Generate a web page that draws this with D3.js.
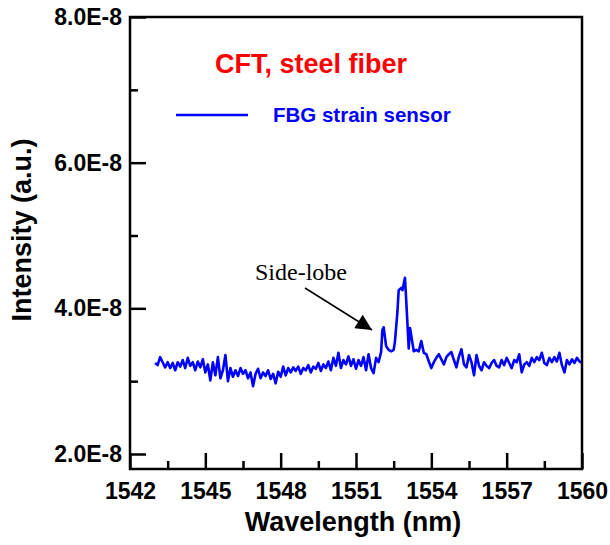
<!DOCTYPE html>
<meta charset="utf-8">
<style>
    html,
    body {
        margin: 0;
        background: #fff;
    }

    .frame {
        fill: none;
        stroke: #000;
        stroke-width: 2.5px;
    }

    .tick-label {
        font-family: "Liberation Sans", Arial, sans-serif;
        font-weight: bold;
        font-size: 23px;
        fill: #000;
    }

    .axis-title {
        font-family: "Liberation Sans", Arial, sans-serif;
        font-weight: bold;
        font-size: 27px;
        fill: #000;
    }

    .trace {
        fill: none;
        stroke: #0000ff;
        stroke-width: 2.6px;
        stroke-linejoin: round;
    }
</style>

<body>
    <script src="https://d3js.org/d3.v7.min.js"></script>
    <script>

        // tick values
        var xTicks = [1542, 1545, 1548, 1551, 1554, 1557, 1560];
        var xMinor = [1543.5, 1546.5, 1549.5, 1552.5, 1555.5, 1558.5];
        var yTicks = [2, 4, 6, 8];       // in units of 1E-8
        var yMinor = [3, 5, 7];

        // spectrum: [wavelength nm, intensity in 1E-8 a.u.]
        var spectrum = [
            [1543.0, 3.25], [1543.1, 3.22], [1543.2, 3.33], [1543.3, 3.26], [1543.4, 3.19],
            [1543.5, 3.26], [1543.6, 3.18], [1543.7, 3.25], [1543.8, 3.15], [1543.9, 3.26],
            [1544.0, 3.20], [1544.1, 3.29], [1544.2, 3.18], [1544.3, 3.32], [1544.4, 3.21],
            [1544.5, 3.26], [1544.6, 3.15], [1544.7, 3.27], [1544.8, 3.19], [1544.9, 3.30],
            [1545.0, 3.12], [1545.1, 3.23], [1545.2, 3.01], [1545.3, 3.26], [1545.4, 3.08],
            [1545.5, 3.33], [1545.6, 3.04], [1545.7, 3.15], [1545.8, 3.36], [1545.9, 3.00],
            [1546.0, 3.18], [1546.1, 3.06], [1546.2, 3.15], [1546.3, 3.07], [1546.4, 3.18],
            [1546.5, 3.10], [1546.6, 3.15], [1546.7, 3.04], [1546.8, 3.12], [1546.9, 2.93],
            [1547.0, 3.10], [1547.1, 3.17], [1547.2, 3.04], [1547.3, 3.12], [1547.4, 3.07],
            [1547.5, 3.15], [1547.6, 3.03], [1547.7, 3.10], [1547.8, 2.97], [1547.9, 3.13],
            [1548.0, 3.06], [1548.1, 3.20], [1548.2, 3.08], [1548.3, 3.18], [1548.4, 3.12],
            [1548.5, 3.19], [1548.6, 3.14], [1548.7, 3.20], [1548.8, 3.10], [1548.9, 3.18],
            [1549.0, 3.15], [1549.1, 3.22], [1549.2, 3.12], [1549.3, 3.20], [1549.4, 3.17],
            [1549.5, 3.25], [1549.6, 3.14], [1549.7, 3.23], [1549.8, 3.18], [1549.9, 3.27],
            [1550.0, 3.15], [1550.1, 3.32], [1550.2, 3.21], [1550.3, 3.39], [1550.4, 3.18],
            [1550.5, 3.29], [1550.6, 3.23], [1550.7, 3.34], [1550.8, 3.21], [1550.9, 3.30],
            [1551.0, 3.17], [1551.1, 3.29], [1551.2, 3.21], [1551.3, 3.33], [1551.4, 3.15],
            [1551.5, 3.37], [1551.6, 3.18], [1551.7, 3.11], [1551.8, 3.32], [1551.9, 3.26],
            [1552.0, 3.40], [1552.05, 3.70], [1552.1, 3.74], [1552.2, 3.48], [1552.3, 3.43],
            [1552.4, 3.41], [1552.5, 3.43], [1552.55, 3.54], [1552.65, 3.95], [1552.7, 4.25],
            [1552.8, 4.28], [1552.85, 4.25], [1552.95, 4.42], [1553.0, 4.11], [1553.1, 3.45],
            [1553.15, 3.73], [1553.25, 3.52], [1553.3, 3.41], [1553.4, 3.43], [1553.5, 3.41],
            [1553.6, 3.55], [1553.7, 3.39], [1553.8, 3.37], [1553.9, 3.27], [1554.0, 3.18],
            [1554.1, 3.26], [1554.2, 3.32], [1554.3, 3.37], [1554.4, 3.30], [1554.5, 3.23],
            [1554.6, 3.33], [1554.7, 3.37], [1554.8, 3.40], [1554.9, 3.29], [1555.0, 3.19],
            [1555.1, 3.34], [1555.2, 3.44], [1555.3, 3.23], [1555.4, 3.19], [1555.5, 3.36],
            [1555.6, 3.26], [1555.7, 3.08], [1555.8, 3.36], [1555.9, 3.21], [1556.0, 3.15],
            [1556.1, 3.26], [1556.2, 3.21], [1556.3, 3.18], [1556.4, 3.25], [1556.5, 3.29],
            [1556.6, 3.21], [1556.7, 3.19], [1556.8, 3.29], [1556.9, 3.22], [1557.0, 3.32],
            [1557.1, 3.25], [1557.2, 3.18], [1557.3, 3.29], [1557.4, 3.26], [1557.5, 3.37],
            [1557.6, 3.12], [1557.7, 3.23], [1557.8, 3.26], [1557.9, 3.21], [1558.0, 3.32],
            [1558.1, 3.26], [1558.2, 3.33], [1558.3, 3.29], [1558.4, 3.39], [1558.5, 3.25],
            [1558.6, 3.22], [1558.7, 3.32], [1558.8, 3.26], [1558.9, 3.33], [1559.0, 3.27],
            [1559.1, 3.39], [1559.2, 3.22], [1559.3, 3.12], [1559.4, 3.29], [1559.5, 3.23],
            [1559.6, 3.30], [1559.7, 3.25], [1559.8, 3.32], [1559.9, 3.27], [1560.0, 3.25]
        ];

        var width = 610,
            height = 545,
            margin = { top: 17, right: 28, bottom: 76, left: 130 },
            innerW = width - margin.left - margin.right,
            innerH = height - margin.top - margin.bottom;

        var x = d3.scaleLinear().domain([1542, 1560]).range([0, innerW]);
        var y = d3.scaleLinear().domain([1.794, 8]).range([innerH, 0]);

        var svg = d3.select("body").append("svg")
            .attr("width", width)
            .attr("height", height);

        var g = svg.append("g")
            .attr("transform", "translate(" + margin.left + "," + margin.top + ")");

        // data line
        var line = d3.line()
            .x(function (d) { return x(d[0]); })
            .y(function (d) { return y(d[1]); });

        g.append("path")
            .datum(spectrum)
            .attr("class", "trace")
            .attr("d", line);

        // axes with inward ticks
        var xAxis = g.append("g")
            .attr("transform", "translate(0," + innerH + ")")
            .call(d3.axisBottom(x).tickValues(xTicks).tickSizeInner(-16).tickSizeOuter(0)
                .tickPadding(14).tickFormat(d3.format("d")));
        xAxis.append("g")
            .call(d3.axisBottom(x).tickValues(xMinor).tickSizeInner(-8).tickSizeOuter(0).tickFormat(""));

        var yAxis = g.append("g")
            .call(d3.axisLeft(y).tickValues(yTicks).tickSizeInner(-16).tickSizeOuter(0)
                .tickPadding(8).tickFormat(function (d) { return d.toFixed(1) + "E-8"; }));
        yAxis.append("g")
            .call(d3.axisLeft(y).tickValues(yMinor).tickSizeInner(-8).tickSizeOuter(0).tickFormat(""));

        svg.selectAll(".domain").remove();
        svg.selectAll(".tick line").attr("stroke", "#000").attr("stroke-width", 2.5);
        svg.selectAll(".tick text").attr("class", "tick-label").attr("fill", null);

        // box frame
        g.append("rect")
            .attr("class", "frame")
            .attr("width", innerW)
            .attr("height", innerH);

        // axis titles
        svg.append("text")
            .attr("class", "axis-title")
            .attr("text-anchor", "middle")
            .attr("x", 353)
            .attr("y", 531)
            .text("Wavelength (nm)");

        svg.append("text")
            .attr("class", "axis-title")
            .attr("text-anchor", "middle")
            .attr("transform", "translate(31," + 230 + ") rotate(-90)")
            .text("Intensity (a.u.)");

        // title and legend
        svg.append("text")
            .attr("x", 215)
            .attr("y", 73)
            .style("font-family", "'Liberation Sans', Arial, sans-serif")
            .style("font-weight", "bold")
            .style("font-size", "27px")
            .style("fill", "#ff0000")
            .text("CFT, steel fiber");

        svg.append("line")
            .attr("x1", 176).attr("x2", 248)
            .attr("y1", 115).attr("y2", 115)
            .attr("stroke", "#0000ff")
            .attr("stroke-width", 2.4);

        svg.append("text")
            .attr("x", 273)
            .attr("y", 122)
            .style("font-family", "'Liberation Sans', Arial, sans-serif")
            .style("font-weight", "bold")
            .style("font-size", "20.5px")
            .style("fill", "#0000ff")
            .text("FBG strain sensor");

        // side-lobe annotation
        svg.append("defs").append("marker")
            .attr("id", "arrow")
            .attr("viewBox", "0 0 10 10")
            .attr("refX", 10).attr("refY", 5)
            .attr("markerWidth", 18).attr("markerHeight", 16)
            .attr("markerUnits", "userSpaceOnUse")
            .attr("orient", "auto")
            .append("path")
            .attr("d", "M0,0 L10,5 L0,10 z")
            .attr("fill", "#000");

        svg.append("line")
            .attr("x1", 305).attr("y1", 288)
            .attr("x2", 372).attr("y2", 330)
            .attr("stroke", "#000")
            .attr("stroke-width", 1.5)
            .attr("marker-end", "url(#arrow)");

        svg.append("text")
            .attr("x", 255)
            .attr("y", 280)
            .style("font-family", "'Liberation Serif', 'Times New Roman', serif")
            .style("font-size", "24px")
            .style("fill", "#000")
            .text("Side-lobe");

    </script>
</body>

</html>
